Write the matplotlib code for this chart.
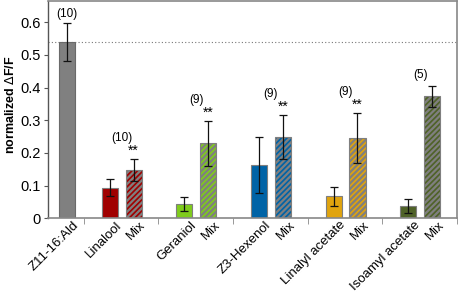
import matplotlib
matplotlib.use('Agg')
import matplotlib.pyplot as plt
import matplotlib.transforms as mtransforms

plt.rcParams['font.family'] = ['Liberation Sans', 'DejaVu Sans']
plt.rcParams['hatch.linewidth'] = 1.6
plt.rcParams['hatch.color'] = '#7f7f7f'

# data
odorants = ['Linalool', 'Geraniol', 'Z3-Hexenol', 'Linalyl acetate', 'Isoamyl acetate']
colors = ['#a00000', '#7fcc1c', '#0063a6', '#e0a40e', '#4f6228']
single_vals = [0.094, 0.044, 0.163, 0.067, 0.038]
single_err = [0.026, 0.021, 0.085, 0.030, 0.022]
mix_vals = [0.148, 0.229, 0.249, 0.245, 0.373]
mix_err = [0.034, 0.069, 0.067, 0.077, 0.033]
n_labels = ['(10)', '(9)', '(9)', '(9)', '(5)']
signif = ['**', '**', '**', '**', '']
ref_val = 0.540
ref_err = 0.058
ref_n = '(10)'

fig = plt.figure(figsize=(4.59, 2.97), dpi=100)
ax = fig.add_axes([0.1046, 0.265, 0.8910, 0.7316])

w = 0.215
# reference pheromone bar
ax.bar(0.253, ref_val, w, color='#808080', edgecolor='#6a6a6a', linewidth=0.8, zorder=2)
ax.errorbar(0.253, ref_val, yerr=ref_err, fmt='none', ecolor='#111111',
            elinewidth=0.9, capsize=2.6, capthick=0.9, zorder=3)
ax.text(0.253, ref_val + ref_err + 0.010, ref_n, ha='center', va='bottom', fontsize=8.5)

xs, labels = [0.253], ['Z11-16:Ald']
for i, name in enumerate(odorants):
    base = 0.48 + i
    x1, x2 = base + 0.347, base + 0.667
    ax.bar(x1, single_vals[i], w, color=colors[i], edgecolor='#7f7f7f', linewidth=0.8, zorder=2)
    ax.bar(x2, mix_vals[i], w, color=colors[i], edgecolor='#7f7f7f', linewidth=0.8,
           hatch='//////', zorder=2)
    ax.errorbar([x1, x2], [single_vals[i], mix_vals[i]], yerr=[single_err[i], mix_err[i]],
                fmt='none', ecolor='#111111', elinewidth=0.9, capsize=2.6, capthick=0.9, zorder=3)
    top = mix_vals[i] + mix_err[i]
    if signif[i]:
        ax.text(x2, top + 0.004, signif[i], ha='center', va='bottom', fontsize=10)
        ax.text(base + 0.507, top + 0.046, n_labels[i], ha='center', va='bottom', fontsize=8.5)
    else:
        ax.text(base + 0.507, top + 0.014, n_labels[i], ha='center', va='bottom', fontsize=8.5)
    xs += [x1, x2]
    labels += [name, 'Mix']

ax.axhline(ref_val, color='#777777', linestyle=(0, (1, 2)), linewidth=0.8, zorder=1)

ax.set_xlim(0, 5.453)
ax.set_ylim(0, 0.665)
ax.set_yticks([0, 0.1, 0.2, 0.3, 0.4, 0.5, 0.6])
ax.set_yticklabels(['0', '0.1', '0.2', '0.3', '0.4', '0.5', '0.6'], fontsize=10.5)
ax.set_xticks(xs)
ax.set_xticklabels(labels, rotation=45, ha='right', rotation_mode='anchor', fontsize=9.5)
ax.tick_params(axis='x', length=0, pad=0.5)
shift = mtransforms.ScaledTranslation(6 / 100, 0, fig.dpi_scale_trans)
for lab in ax.get_xticklabels():
    lab.set_transform(lab.get_transform() + shift)
ax.set_xticks([0.48 + i for i in range(6)], minor=True)
ax.tick_params(axis='x', which='minor', length=4, color='#888888', direction='out')
ax.tick_params(axis='y', length=3, color='#555555', direction='out', pad=2)
ax.set_ylabel('normalized $\\Delta$F/F', fontsize=9, fontweight='bold', labelpad=2)
ax.yaxis.set_label_coords(-0.075, 0.52)

for side in ['top', 'right', 'bottom']:
    ax.spines[side].set_color('#888888')
    ax.spines[side].set_linewidth(1.2)
ax.spines['left'].set_color('#555555')
ax.spines['left'].set_linewidth(1.0)

fig.savefig('out.png', dpi=100)
